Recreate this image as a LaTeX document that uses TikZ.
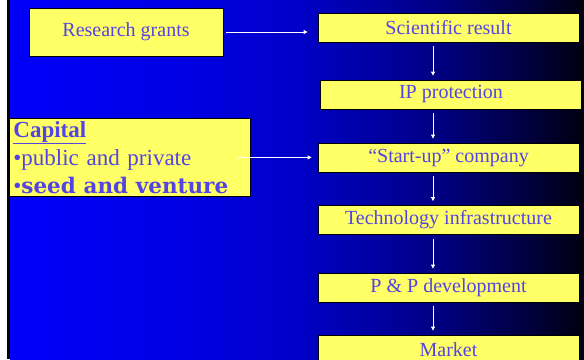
\documentclass[tikz,border=0pt]{standalone}
\usepackage{fontspec}
\setmainfont{Liberation Serif}
\newfontfamily\heavyfont{DejaVu Serif}
\usetikzlibrary{arrows.meta,positioning}

\definecolor{boxyellow}{RGB}{255,255,102}
\definecolor{txtblue}{RGB}{85,68,228}
\definecolor{bgA}{RGB}{0,0,250}
\definecolor{bgB}{RGB}{0,0,228}
\definecolor{bgC}{RGB}{0,0,200}
\definecolor{bgD}{RGB}{0,0,130}
\definecolor{bgE}{RGB}{0,0,15}
\pgfdeclarehorizontalshading{slidebg}{100bp}{color(0bp)=(bgA); color(25bp)=(bgA); color(40bp)=(bgB); color(50bp)=(bgC); color(62.5bp)=(bgD); color(75bp)=(bgE); color(100bp)=(bgE)}

\begin{document}
\begin{tikzpicture}[
    x=1pt, y=-1pt,
    box/.style={draw=black, line width=0.8pt, fill=boxyellow, text=txtblue,
        font=\fontsize{20}{24}\selectfont, minimum width=261pt, minimum height=29pt, inner sep=0pt},
    flow/.style={draw=white, line width=0.8pt, -{Triangle[length=4pt,width=4pt]},
        shorten <=4pt, shorten >=4pt}
]
\useasboundingbox (0,0) rectangle (584,359);
\clip (0,0) rectangle (584,359);

% Hintergrund
\fill[white] (0,0) rectangle (7,359);
\fill[black] (7,0) rectangle (10,359);
\shade[shading=slidebg] (10,0) rectangle (584,359);

% Kette rechts
\node[box] (sci) at (448.5,27.5) {Scientific result};
\node[box] (ip) at (451,94.5) {IP protection};
\node[box] (startup) at (448.5,157.5) {“Start-up” company};
\node[box] (tech) at (448.5,220) {Technology infrastructure};
\node[box] (pp) at (448.5,287.5) {P \& P development};
\node[box] (market) at (448.5,349.5) {Market};

% Quellen links
\node[box, minimum width=194pt, minimum height=48pt] (grants) at (126,32) {Research grants};
\node[box, anchor=north west, minimum width=241pt, minimum height=78pt, align=left,
    text width=233pt, inner xsep=4pt, font=\fontsize{23}{28}\selectfont] (capital) at (9,118)
    {\underline{\textbf{Capital}}\\
     •public and private\\
     •{\heavyfont\bfseries\fontsize{21.5}{28}\selectfont seed and venture}};

% Pfeile
\coordinate (spine) at (433,0);
\draw[flow] (sci.south -| spine) -- (ip.north -| spine);
\draw[flow] (ip.south -| spine) -- (startup.north -| spine);
\draw[flow] (startup.south -| spine) -- (tech.north -| spine);
\draw[flow] (tech.south -| spine) -- (pp.north -| spine);
\draw[flow] (pp.south -| spine) -- (market.north -| spine);

\draw[flow, shorten <=3pt, shorten >=10pt] (grants.east) -- (grants.east -| sci.west);
\draw[flow, shorten <=0pt, shorten >=6pt] ([xshift=-14pt]capital.east) -- (capital.east -| startup.west);

\end{tikzpicture}
\end{document}
